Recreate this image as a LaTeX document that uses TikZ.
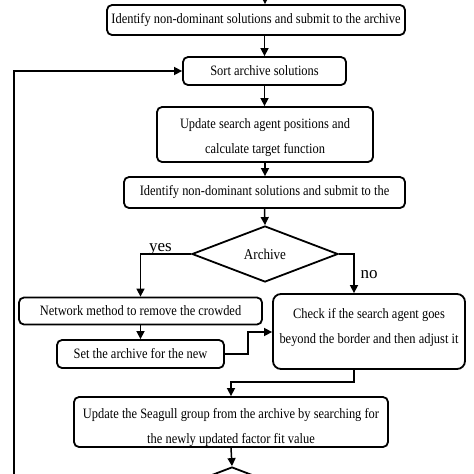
\documentclass[tikz,border=0pt]{standalone}
\usepackage{fontspec}
\setmainfont{Liberation Serif}
\newfontfamily\condf[FakeStretch=0.87]{Liberation Serif}
\usetikzlibrary{shapes.geometric,arrows.meta,calc}
\begin{document}
\begin{tikzpicture}[x=1pt,y=-1pt,
  box/.style={draw, rounded corners=5pt, line width=1.8pt, inner sep=0pt, anchor=center,
    font=\condf\fontsize{14.3}{25}\selectfont, align=center},
  txt/.style={inner sep=0pt, font=\condf\fontsize{14.3}{25}\selectfont, align=center},
  dia/.style={draw, diamond, line width=1.8pt, inner sep=0pt, minimum width=146pt, minimum height=56pt,
    font=\condf\fontsize{15}{17}\selectfont},
  arr/.style={line width=1.5pt, -{Triangle[width=8pt,length=8pt]}},
  lbl/.style={font=\fontsize{17}{19}\selectfont, inner sep=0pt, anchor=base}
]
\clip (0,0) rectangle (474,474);
\fill[white] (0,0) rectangle (474,474);
\node[box, minimum width=298pt, minimum height=30pt] (b1) at (256,20) {Identify non-dominant solutions and submit to the archive};
\node[box, minimum width=163pt, minimum height=28pt] (b2) at (264.5,71) {Sort archive solutions};
\node[box, minimum width=216pt, minimum height=55pt] (b3) at (265,134.5) {};
\node[txt] (b3t) at (265,137.5) {Update search agent positions and\\calculate target function};
\node[box, minimum width=281pt, minimum height=31pt] (b4) at (264.5,192.5) {Identify non-dominant solutions and submit to the};
\node[dia] (d1) at (265,254) {Archive};
\node[box, minimum width=243pt, minimum height=27pt] (b5) at (140.5,311) {Network method to remove the crowded};
\node[box, rounded corners=8pt, minimum width=192pt, minimum height=75pt] (b6) at (369,331.5) {};
\node[txt] (b6t) at (369,327.5) {Check if the search agent goes\\beyond the border and then adjust it};
\node[box, minimum width=167pt, minimum height=28pt] (b7) at (140.5,354) {Set the archive for the new};
\node[box, minimum width=314pt, minimum height=50pt] (b8) at (231,422) {};
\node[txt] (b8t) at (231,427.5) {Update the Seagull group from the archive by searching for\\the newly updated factor fit value};
\node[dia] (d2) at (232,495) {};
\node[lbl] (yes) at (160.5,251) {yes};
\node[lbl] (no) at (369,278) {no};
\coordinate (top) at (265,0);
\coordinate (nj) at (354,254);
\coordinate (k1) at (248,332);
\coordinate (k2) at (354,382);
\coordinate (loop) at (14,480);
\draw[arr] (top) -- (top |- b1.north);
\draw[arr] (b2.north |- b1.south) -- (b2.north);
\draw[arr] (b2.south) -- (b2.south |- b3.north);
\draw[arr] (b3.south) -- (b3.south |- b4.north);
\draw[arr] (b4.south) -- (d1.north);
\draw[arr] (d1.west) -| (b5.north);
\draw[arr] (d1.east) -- (nj) -- (nj |- b6.north);
\draw[arr] (b5.south) -- (b7.north);
\draw[arr] (b7.east) -| (k1) -- (k1 -| b6.west);
\draw[arr] (k2 |- b6.south) -- (k2) -| (b8.north);
\draw[arr] (b8.south) -- (d2.north);
\draw[arr] (loop) |- (b2.west);
\end{tikzpicture}
\end{document}
